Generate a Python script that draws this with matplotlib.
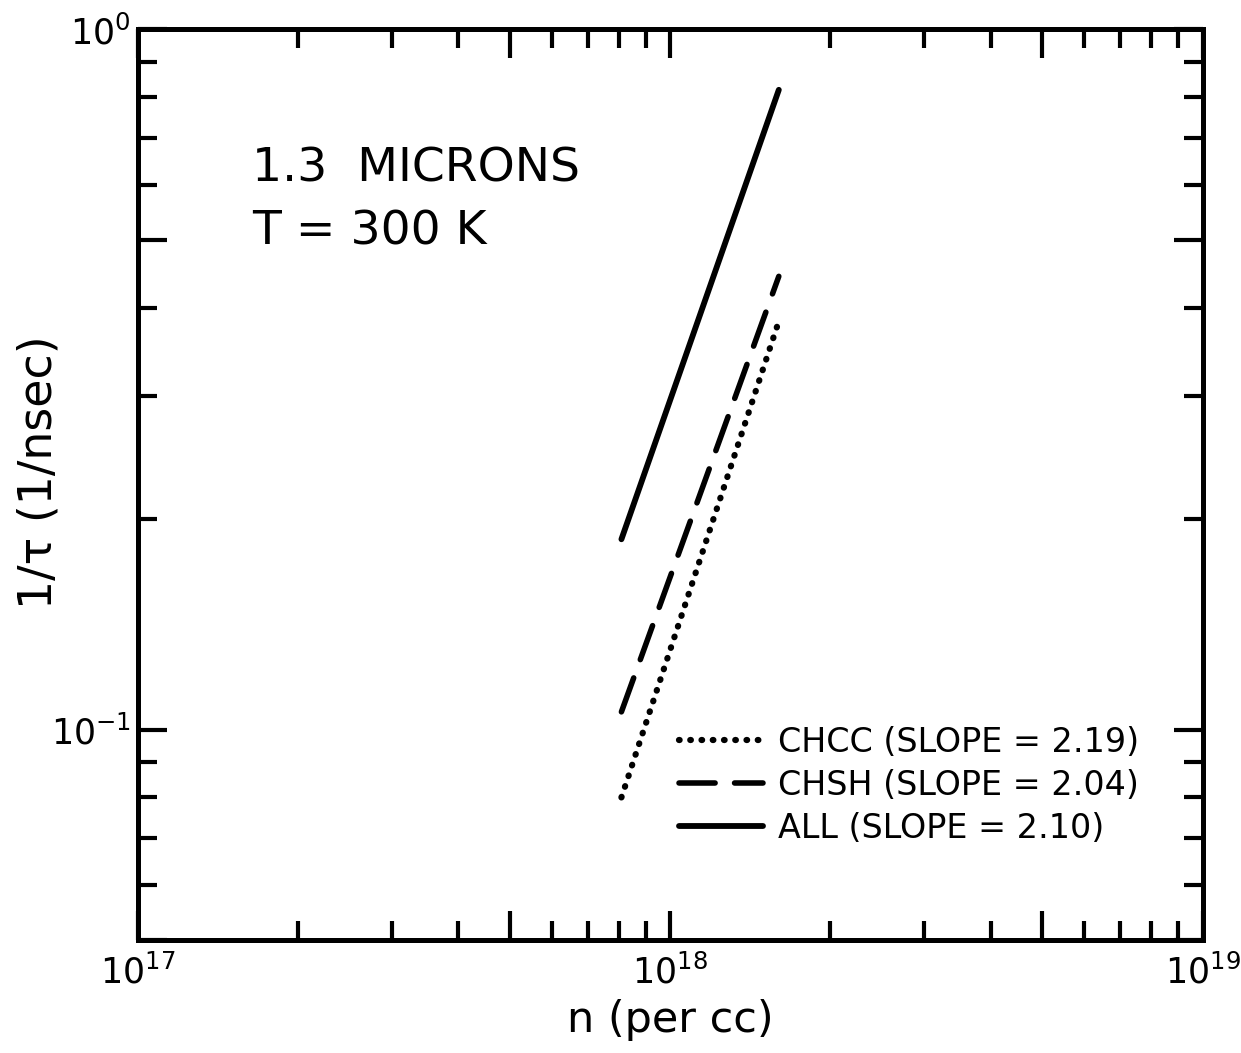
import math
import matplotlib.pyplot as plt
from matplotlib.ticker import FixedLocator, NullFormatter, FuncFormatter

plt.rcParams['font.family'] = ['DejaVu Sans']
plt.rcParams['mathtext.default'] = 'regular'

# endpoints of the fitted lines, n in per cc, 1/tau in 1/nsec
n_range = [8.1e17, 1.6e18]
rate_chcc = [0.080, 0.383]
rate_chsh = [0.106, 0.444]
rate_all = [0.187, 0.820]

labels = ["CHCC (SLOPE = 2.19)", "CHSH (SLOPE = 2.04)", "ALL (SLOPE = 2.10)"]

x_major = [1e17, 5e17, 1e18, 5e18, 1e19]
x_minor = [2e17, 3e17, 4e17, 6e17, 7e17, 8e17, 9e17,
           2e18, 3e18, 4e18, 6e18, 7e18, 8e18, 9e18]
y_major = [0.05, 0.1, 0.5, 1.0]
y_minor = [0.06, 0.07, 0.08, 0.09, 0.2, 0.3, 0.4, 0.6, 0.7, 0.8, 0.9]

fig = plt.figure(figsize=(12.41, 10.53), dpi=100)
ax = fig.add_axes([0.111, 0.107, 0.858, 0.865])
ax.set_xscale('log')
ax.set_yscale('log')
ax.set_xlim(1e17, 1e19)
ax.set_ylim(0.05, 1.0)

ax.plot(n_range, rate_chcc, color='black', lw=4.5, dash_capstyle='round',
        linestyle=(0, (0.1, 1.7)), label=labels[0])
ax.plot(n_range, rate_chsh, color='black', lw=4, dash_capstyle='round',
        linestyle=(0, (6.5, 3.5)), label=labels[1])
ax.plot(n_range, rate_all, color='black', lw=4.2, solid_capstyle='round',
        label=labels[2])


def decade_label(v, pos):
    exp = int(round(math.log10(v)))
    if abs(v - 10.0 ** exp) > 1e-9 * v:
        return ''
    return r'$10^{%d}$' % exp


ax.xaxis.set_major_locator(FixedLocator(x_major))
ax.xaxis.set_minor_locator(FixedLocator(x_minor))
ax.yaxis.set_major_locator(FixedLocator(y_major))
ax.yaxis.set_minor_locator(FixedLocator(y_minor))
ax.xaxis.set_major_formatter(FuncFormatter(decade_label))
ax.yaxis.set_major_formatter(FuncFormatter(
    lambda v, p: decade_label(v, p) if v >= 0.1 else ''))
ax.xaxis.set_minor_formatter(NullFormatter())
ax.yaxis.set_minor_formatter(NullFormatter())

ax.tick_params(which='both', direction='in', top=True, right=True,
               width=3, labelsize=25)
ax.tick_params(axis='x', pad=10)
ax.tick_params(axis='y', pad=5)
ax.tick_params(which='major', length=21)
ax.tick_params(which='minor', length=14)
for s in ax.spines.values():
    s.set_linewidth(3.6)

ax.set_xlabel("n (per cc)", fontsize=31, labelpad=6)
ax.set_ylabel("1/τ (1/nsec)", fontsize=33)
ax.yaxis.set_label_coords(-0.072, 0.514)

ax.text(0.107, 0.833, "1.3  MICRONS", transform=ax.transAxes,
        fontsize=34, va='baseline')
ax.text(0.107, 0.764, "T = 300 K", transform=ax.transAxes,
        fontsize=34, va='baseline')

ax.legend(loc='upper left', bbox_to_anchor=(0.496, 0.25), frameon=False,
          fontsize=24, handlelength=2.5, handletextpad=0.45,
          labelspacing=0.3, borderaxespad=0)

fig.savefig('out.png', dpi=100)
